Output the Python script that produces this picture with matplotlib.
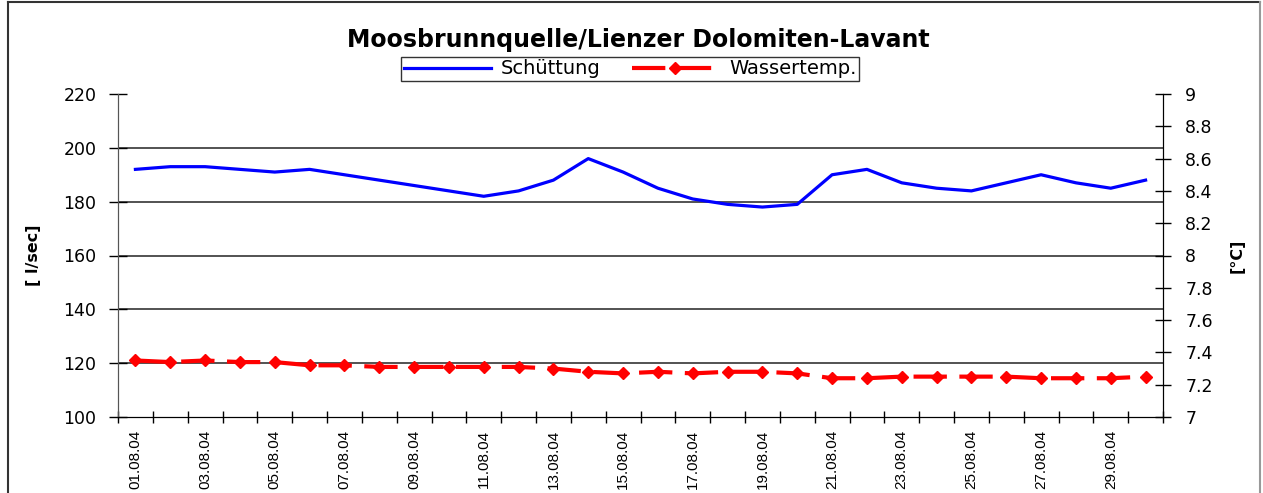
import matplotlib
matplotlib.use("Agg")
import matplotlib.pyplot as plt
from matplotlib.lines import Line2D

plt.rcParams['font.family'] = ['DejaVu Sans']

# data: Moosbrunnquelle, August 2004
days = ["%02d.08.04" % d for d in range(1, 31)]
schuettung = [192, 193, 193, 192, 191, 192, 190, 188, 186, 184,
              182, 184, 188, 196, 191, 185, 181, 179, 178, 179,
              190, 192, 187, 185, 184, 187, 190, 187, 185, 188]
wassertemp = [7.35, 7.34, 7.35, 7.34, 7.34, 7.32, 7.32, 7.31, 7.31, 7.31,
              7.31, 7.31, 7.30, 7.28, 7.27, 7.28, 7.27, 7.28, 7.28, 7.27,
              7.24, 7.24, 7.25, 7.25, 7.25, 7.25, 7.24, 7.24, 7.24, 7.25]
left_ticks = [100, 120, 140, 160, 180, 200, 220]
right_ticks = [7, 7.2, 7.4, 7.6, 7.8, 8, 8.2, 8.4, 8.6, 8.8, 9]

W, H = 1263, 493
fig = plt.figure(figsize=(W / 100, H / 100), dpi=100)
ax = fig.add_axes([118 / W, 1 - 417 / H, (1163 - 118) / W, (417 - 94) / H])
ax2 = ax.twinx()

x = list(range(len(days)))

# grid lines on left axis
for v in left_ticks[1:-1]:
    ax.axhline(v, color='#444444', lw=1.3, zorder=0)

ax.plot(x, schuettung, color='#0000ff', lw=2.3, zorder=3)
ax2.plot(x, wassertemp, color='#ff0000', lw=3, linestyle=(0, (8, 3)),
         marker='D', markersize=6.5, zorder=3)

ax.set_xlim(-0.5, len(days) - 0.5)
ax.set_ylim(100, 220)
ax2.set_ylim(7, 9)

ax.set_yticks(left_ticks)
ax.set_yticklabels([str(v) for v in left_ticks], fontsize=12.5)
ax2.set_yticks(right_ticks)
ax2.set_yticklabels(["%g" % v for v in right_ticks], fontsize=12.5)

# category boundaries as ticks, labels every other day
ax.set_xticks([i - 0.5 for i in range(len(days) + 1)])
ax.set_xticklabels([])
ax.set_xticks(x[::2], minor=True)
ax.set_xticklabels(days[::2], minor=True, rotation=90, fontsize=11,
                   family='Liberation Sans')
ax.tick_params(axis='x', which='minor', length=0, pad=9)
ax.tick_params(axis='x', which='major', direction='inout', length=8, width=1)
ax.tick_params(axis='y', direction='inout', length=13, width=1, pad=9)
ax2.tick_params(axis='y', direction='inout', length=12, width=1, pad=10)

for a in (ax, ax2):
    a.spines['top'].set_visible(False)
    a.spines['left'].set_color('#555555')
    a.spines['right'].set_color('black')

ax.set_ylabel("[ l/sec]", fontsize=11.5, fontweight='bold', labelpad=16)
ax2.set_ylabel("[°C]", fontsize=11.5, fontweight='bold', rotation=90, labelpad=12)

fig.text(0.505, 1 - 40 / H, "Moosbrunnquelle/Lienzer Dolomiten-Lavant",
         ha='center', va='center', fontsize=17, fontweight='bold')

handles = [Line2D([], [], color='#0000ff', lw=2.3),
           Line2D([], [], color='#ff0000', lw=3, linestyle=(0, (8, 3)),
                  marker='D', markersize=6.5)]
leg = fig.legend(handles, ["Schüttung", "Wassertemp."], loc='center',
                 bbox_to_anchor=(630 / W, 1 - 69 / H), ncol=2, fontsize=14,
                 frameon=True, fancybox=False, edgecolor='black',
                 handlelength=4.5, handletextpad=0.5, columnspacing=1.6,
                 borderpad=0.15)
leg.get_frame().set_linewidth(1)

# outer chart border
fig.add_artist(Line2D([8 / W, 8 / W], [0, 1 - 2 / H], color='#333333', lw=1.5,
                      transform=fig.transFigure))
fig.add_artist(Line2D([8 / W, 1260 / W], [1 - 2 / H, 1 - 2 / H], color='#333333',
                      lw=1.5, transform=fig.transFigure))
fig.add_artist(Line2D([1260 / W, 1260 / W], [0, 1 - 2 / H], color='#999999', lw=1.5,
                      transform=fig.transFigure))

fig.savefig("out.png", dpi=100)
